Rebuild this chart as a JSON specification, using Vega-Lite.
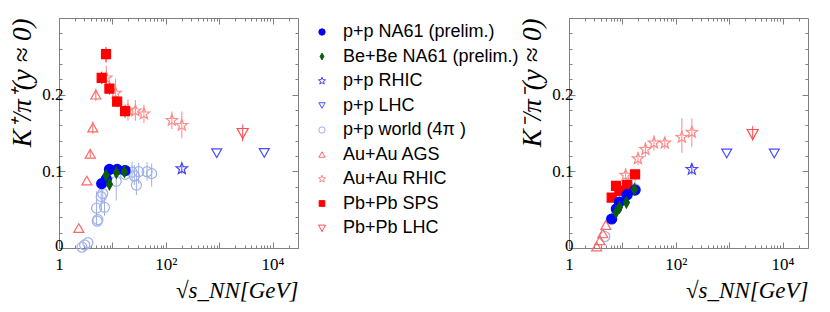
{
  "$schema": "https://vega.github.io/schema/vega-lite/v6.json",
  "padding": {"left": 8, "top": 17, "right": 5, "bottom": 5},
  "background": "white",
  "spacing": 271,
  "bounds": "flush",
  "config": {
    "view": {"stroke": "#808080", "strokeWidth": 1},
    "axis": {
      "labelFont": "Liberation Serif", "labelFontSize": 17, "labelColor": "black",
      "titleFont": "Liberation Serif", "titleFontStyle": "italic", "titleFontWeight": "normal",
      "titleFontSize": 23, "titleColor": "black", "domain": false, "grid": false,
      "tickColor": "#808080", "labelOverlap": false, "labelFlush": false
    },
    "legend": {
      "orient": "none", "legendX": 254, "legendY": 5, "padding": 0,
      "labelFont": "Liberation Sans", "labelFontSize": 18, "labelColor": "black",
      "symbolSize": 40, "symbolStrokeWidth": 1, "rowPadding": 6.5, "labelOffset": 12,
      "symbolOpacity": 1, "labelLimit": 300
    }
  },
  "datasets": {
    "kp": [
      {"series": "p+p world (4π )", "x": 2.69, "y": 0.001},
      {"series": "p+p world (4π )", "x": 3.02, "y": 0.004},
      {"series": "p+p world (4π )", "x": 3.48, "y": 0.007},
      {"series": "p+p world (4π )", "x": 5.2, "y": 0.035},
      {"series": "p+p world (4π )", "x": 5.34, "y": 0.037},
      {"series": "p+p world (4π )", "x": 5.05, "y": 0.052, "lo": 0.03, "hi": 0.074},
      {"series": "p+p world (4π )", "x": 6.18, "y": 0.067, "lo": 0.05, "hi": 0.088},
      {"series": "p+p world (4π )", "x": 6.6, "y": 0.071, "lo": 0.058, "hi": 0.085},
      {"series": "p+p world (4π )", "x": 7.12, "y": 0.053, "lo": 0.042, "hi": 0.066},
      {"series": "p+p world (4π )", "x": 11.8, "y": 0.087, "lo": 0.062, "hi": 0.109},
      {"series": "p+p world (4π )", "x": 17.3, "y": 0.096},
      {"series": "p+p world (4π )", "x": 23.4, "y": 0.099, "lo": 0.087, "hi": 0.112},
      {"series": "p+p world (4π )", "x": 25.8, "y": 0.094, "lo": 0.082, "hi": 0.108},
      {"series": "p+p world (4π )", "x": 28.2, "y": 0.082, "lo": 0.069, "hi": 0.096},
      {"series": "p+p world (4π )", "x": 31.1, "y": 0.0995, "lo": 0.084, "hi": 0.111},
      {"series": "p+p world (4π )", "x": 44.6, "y": 0.0995, "lo": 0.088, "hi": 0.112},
      {"series": "p+p world (4π )", "x": 54.4, "y": 0.097, "lo": 0.08, "hi": 0.11},
      {"series": "Au+Au AGS", "x": 2.35, "y": 0.026},
      {"series": "Au+Au AGS", "x": 3.32, "y": 0.088},
      {"series": "Au+Au AGS", "x": 3.85, "y": 0.123, "lo": 0.118, "hi": 0.128},
      {"series": "Au+Au AGS", "x": 4.3, "y": 0.157, "lo": 0.149, "hi": 0.165},
      {"series": "Au+Au AGS", "x": 4.9, "y": 0.2, "lo": 0.192, "hi": 0.208},
      {"series": "Au+Au RHIC", "x": 7.7, "y": 0.222, "lo": 0.206, "hi": 0.238},
      {"series": "Au+Au RHIC", "x": 11.5, "y": 0.202, "lo": 0.186, "hi": 0.221},
      {"series": "Au+Au RHIC", "x": 19.6, "y": 0.18, "lo": 0.166, "hi": 0.194},
      {"series": "Au+Au RHIC", "x": 27, "y": 0.179, "lo": 0.166, "hi": 0.193},
      {"series": "Au+Au RHIC", "x": 39, "y": 0.175, "lo": 0.163, "hi": 0.187},
      {"series": "Au+Au RHIC", "x": 130, "y": 0.1665, "lo": 0.155, "hi": 0.178},
      {"series": "Au+Au RHIC", "x": 200, "y": 0.16, "lo": 0.143, "hi": 0.178},
      {"series": "Pb+Pb LHC", "x": 2760, "y": 0.15, "lo": 0.139, "hi": 0.161},
      {"series": "p+p LHC", "x": 900, "y": 0.1237},
      {"series": "p+p LHC", "x": 7000, "y": 0.124},
      {"series": "p+p RHIC", "x": 200, "y": 0.1034, "lo": 0.097, "hi": 0.11},
      {"series": "Pb+Pb SPS", "x": 6.3, "y": 0.222, "lo": 0.214, "hi": 0.23},
      {"series": "Pb+Pb SPS", "x": 7.6, "y": 0.253, "lo": 0.242, "hi": 0.262},
      {"series": "Pb+Pb SPS", "x": 8.8, "y": 0.208, "lo": 0.2, "hi": 0.216},
      {"series": "Pb+Pb SPS", "x": 12.3, "y": 0.191, "lo": 0.184, "hi": 0.198},
      {"series": "Pb+Pb SPS", "x": 17.3, "y": 0.1785, "lo": 0.17, "hi": 0.187},
      {"series": "p+p NA61 (prelim.)", "x": 6.3, "y": 0.084},
      {"series": "p+p NA61 (prelim.)", "x": 7.7, "y": 0.09},
      {"series": "p+p NA61 (prelim.)", "x": 8.8, "y": 0.1025},
      {"series": "p+p NA61 (prelim.)", "x": 12.3, "y": 0.1025},
      {"series": "p+p NA61 (prelim.)", "x": 17.3, "y": 0.101},
      {"series": "Be+Be NA61 (prelim.)", "x": 7.6, "y": 0.095, "lo": 0.09, "hi": 0.1},
      {"series": "Be+Be NA61 (prelim.)", "x": 8.8, "y": 0.083, "lo": 0.079, "hi": 0.087},
      {"series": "Be+Be NA61 (prelim.)", "x": 11.9, "y": 0.098, "lo": 0.093, "hi": 0.103},
      {"series": "Be+Be NA61 (prelim.)", "x": 16.8, "y": 0.0995, "lo": 0.095, "hi": 0.104}
    ],
    "km": [
      {"series": "p+p world (4π )", "x": 4.7, "y": 0.015},
      {"series": "p+p world (4π )", "x": 12.3, "y": 0.083, "lo": 0.074, "hi": 0.092},
      {"series": "p+p world (4π )", "x": 17.3, "y": 0.077, "lo": 0.07, "hi": 0.1},
      {"series": "Au+Au AGS", "x": 3.3, "y": 0.002},
      {"series": "Au+Au AGS", "x": 3.8, "y": 0.01},
      {"series": "Au+Au AGS", "x": 4.3, "y": 0.019},
      {"series": "Au+Au AGS", "x": 4.9, "y": 0.03},
      {"series": "Au+Au RHIC", "x": 11.5, "y": 0.095, "lo": 0.087, "hi": 0.104},
      {"series": "Au+Au RHIC", "x": 19.6, "y": 0.1165, "lo": 0.108, "hi": 0.125},
      {"series": "Au+Au RHIC", "x": 27, "y": 0.1285, "lo": 0.119, "hi": 0.138},
      {"series": "Au+Au RHIC", "x": 39, "y": 0.137, "lo": 0.127, "hi": 0.147},
      {"series": "Au+Au RHIC", "x": 62.4, "y": 0.137, "lo": 0.129, "hi": 0.145},
      {"series": "Au+Au RHIC", "x": 130, "y": 0.1444, "lo": 0.124, "hi": 0.169},
      {"series": "Au+Au RHIC", "x": 200, "y": 0.151, "lo": 0.132, "hi": 0.169},
      {"series": "Pb+Pb LHC", "x": 2760, "y": 0.1487, "lo": 0.14, "hi": 0.159},
      {"series": "p+p LHC", "x": 900, "y": 0.1233},
      {"series": "p+p LHC", "x": 7000, "y": 0.1233},
      {"series": "p+p RHIC", "x": 200, "y": 0.1026, "lo": 0.096, "hi": 0.109},
      {"series": "Pb+Pb SPS", "x": 6.3, "y": 0.0658},
      {"series": "Pb+Pb SPS", "x": 7.6, "y": 0.081},
      {"series": "Pb+Pb SPS", "x": 8.8, "y": 0.0745},
      {"series": "Pb+Pb SPS", "x": 12.3, "y": 0.082},
      {"series": "Pb+Pb SPS", "x": 17.3, "y": 0.096},
      {"series": "p+p NA61 (prelim.)", "x": 6.3, "y": 0.0378},
      {"series": "p+p NA61 (prelim.)", "x": 7.7, "y": 0.051},
      {"series": "p+p NA61 (prelim.)", "x": 8.8, "y": 0.06},
      {"series": "p+p NA61 (prelim.)", "x": 12.3, "y": 0.0695},
      {"series": "p+p NA61 (prelim.)", "x": 17.3, "y": 0.0755},
      {"series": "Be+Be NA61 (prelim.)", "x": 7.6, "y": 0.0464},
      {"series": "Be+Be NA61 (prelim.)", "x": 8.8, "y": 0.053},
      {"series": "Be+Be NA61 (prelim.)", "x": 11.9, "y": 0.0595, "lo": 0.055, "hi": 0.064},
      {"series": "Be+Be NA61 (prelim.)", "x": 16.8, "y": 0.0767, "lo": 0.073, "hi": 0.08}
    ]
  },
  "hconcat": [
    {
      "width": 239, "height": 230,
      "data": {"name": "kp"},
      "layer": [
        {
          "transform": [{"filter": "datum.series === 'p+p NA61 (prelim.)'"}],
          "mark": {"type": "line", "color": "#00e1ff", "strokeWidth": 6, "opacity": 0.85},
          "encoding": {
            "x": {"field": "x", "type": "quantitative", "scale": {"type": "log", "domain": [1, 30000], "nice": false}, "axis": null},
            "y": {"field": "y", "type": "quantitative", "scale": {"domain": [0, 0.3], "nice": false, "zero": false}, "axis": null}
          }
        },
        {
          "mark": {"type": "rule", "strokeWidth": 1},
          "encoding": {
            "x": {"field": "x", "type": "quantitative", "scale": {"type": "log", "domain": [1, 30000], "nice": false},
              "axis": {"orient": "top", "labels": false, "title": null,
                "values": [1,2,3,4,5,6,7,8,9,10,20,30,40,50,60,70,80,90,100,200,300,400,500,600,700,800,900,1000,2000,3000,4000,5000,6000,7000,8000,9000,10000,20000],
                "tickSize": {"condition": {"test": "abs(log(datum.value)/LN10 - round(log(datum.value)/LN10)) < 0.001", "value": -6}, "value": -3}}},
            "y": {"field": "lo", "type": "quantitative", "scale": {"domain": [0, 0.3], "nice": false, "zero": false},
              "axis": {"orient": "right", "labels": false, "title": null,
                "values": [0,0.02,0.04,0.06,0.08,0.1,0.12,0.14,0.16,0.18,0.2,0.22,0.24,0.26,0.28],
                "tickSize": {"condition": {"test": "abs(datum.value*10 - round(datum.value*10)) < 0.001", "value": -6}, "value": -3}}},
            "y2": {"field": "hi"},
            "stroke": {"field": "series", "type": "nominal",
              "scale": {"domain": ["p+p NA61 (prelim.)", "Be+Be NA61 (prelim.)", "p+p RHIC", "p+p LHC", "p+p world (4π )", "Au+Au AGS", "Au+Au RHIC", "Pb+Pb SPS", "Pb+Pb LHC"],
                "range": ["#0000ff", "#0b5d0b", "#4646ee", "#4b4bff", "#9fb0e8", "#ff6666", "#ff8888", "#ff0000", "#ff4d4d"]}}
          }
        },
        {
          "mark": {"type": "point", "strokeWidth": 1.2, "opacity": 1, "size": 100},
          "encoding": {
            "x": {"field": "x", "type": "quantitative", "scale": {"type": "log", "domain": [1, 30000], "nice": false},
              "axis": {"orient": "bottom", "title": "√s_NN[GeV]", "titleAnchor": "end", "titlePadding": 4, "labelPadding": 14,
                "values": [1,2,3,4,5,6,7,8,9,10,20,30,40,50,60,70,80,90,100,200,300,400,500,600,700,800,900,1000,2000,3000,4000,5000,6000,7000,8000,9000,10000,20000],
                "labelExpr": "datum.value == 1 ? '1' : datum.value == 100 ? '10²' : datum.value == 10000 ? '10⁴' : ''",
                "tickSize": {"condition": {"test": "abs(log(datum.value)/LN10 - round(log(datum.value)/LN10)) < 0.001", "value": -6}, "value": -3}}},
            "y": {"field": "y", "type": "quantitative", "scale": {"domain": [0, 0.3], "nice": false, "zero": false},
              "axis": {"orient": "left", "title": "K⁺/π⁺(y ≈ 0)", "titleFontSize": 27, "titleAnchor": "end", "titlePadding": 5, "labelPadding": 2,
                "values": [0,0.02,0.04,0.06,0.08,0.1,0.12,0.14,0.16,0.18,0.2,0.22,0.24,0.26,0.28],
                "labelOffset": {"condition": {"test": "datum.value == 0", "value": -3}, "value": 0},
                "labelExpr": "datum.value == 0 ? '0' : abs(datum.value - 0.1) < 0.0001 ? '0.1' : abs(datum.value - 0.2) < 0.0001 ? '0.2' : ''",
                "tickSize": {"condition": {"test": "abs(datum.value*10 - round(datum.value*10)) < 0.001", "value": -6}, "value": -3}}},
            "stroke": {"field": "series", "type": "nominal",
              "scale": {"domain": ["p+p NA61 (prelim.)", "Be+Be NA61 (prelim.)", "p+p RHIC", "p+p LHC", "p+p world (4π )", "Au+Au AGS", "Au+Au RHIC", "Pb+Pb SPS", "Pb+Pb LHC"],
                "range": ["#0000ff", "#0b5d0b", "#4646ee", "#4b4bff", "#9fb0e8", "#ff6666", "#ff8888", "#ff0000", "#ff4d4d"]},
              "legend": {"title": null, "symbolSize": 40}},
            "fill": {"field": "series", "type": "nominal",
              "scale": {"domain": ["p+p NA61 (prelim.)", "Be+Be NA61 (prelim.)", "p+p RHIC", "p+p LHC", "p+p world (4π )", "Au+Au AGS", "Au+Au RHIC", "Pb+Pb SPS", "Pb+Pb LHC"],
                "range": ["#0000ff", "#0b5d0b", "transparent", "transparent", "transparent", "transparent", "transparent", "#ff0000", "transparent"]},
              "legend": {"title": null, "symbolSize": 40}},
            "shape": {"field": "series", "type": "nominal",
              "scale": {"domain": ["p+p NA61 (prelim.)", "Be+Be NA61 (prelim.)", "p+p RHIC", "p+p LHC", "p+p world (4π )", "Au+Au AGS", "Au+Au RHIC", "Pb+Pb SPS", "Pb+Pb LHC"],
                "range": ["circle", "M0,-1.1L0.6,0L0,1.1L-0.6,0Z", "M0,-1.2L0.296,-0.408L1.141,-0.371L0.479,0.156L0.706,0.971L0,0.504L-0.706,0.971L-0.479,0.156L-1.141,-0.371L-0.296,-0.408Z", "triangle-down", "circle", "triangle-up", "M0,-1.2L0.296,-0.408L1.141,-0.371L0.479,0.156L0.706,0.971L0,0.504L-0.706,0.971L-0.479,0.156L-1.141,-0.371L-0.296,-0.408Z", "M-0.9,-0.9L0.9,-0.9L0.9,0.9L-0.9,0.9Z", "M-1.1,-0.9L1.1,-0.9L0,1.1Z"]},
              "legend": {"title": null, "symbolSize": 40}}
          }
        }
      ],
      "resolve": {"axis": {"x": "independent", "y": "independent"}}
    },
    {
      "width": 239, "height": 230,
      "data": {"name": "km"},
      "layer": [
        {
          "transform": [{"filter": "datum.series === 'p+p NA61 (prelim.)'"}],
          "mark": {"type": "line", "color": "#00e1ff", "strokeWidth": 6, "opacity": 0.85},
          "encoding": {
            "x": {"field": "x", "type": "quantitative", "scale": {"type": "log", "domain": [1, 30000], "nice": false}, "axis": null},
            "y": {"field": "y", "type": "quantitative", "scale": {"domain": [0, 0.3], "nice": false, "zero": false}, "axis": null}
          }
        },
        {
          "mark": {"type": "rule", "strokeWidth": 1},
          "encoding": {
            "x": {"field": "x", "type": "quantitative", "scale": {"type": "log", "domain": [1, 30000], "nice": false},
              "axis": {"orient": "top", "labels": false, "title": null,
                "values": [1,2,3,4,5,6,7,8,9,10,20,30,40,50,60,70,80,90,100,200,300,400,500,600,700,800,900,1000,2000,3000,4000,5000,6000,7000,8000,9000,10000,20000],
                "tickSize": {"condition": {"test": "abs(log(datum.value)/LN10 - round(log(datum.value)/LN10)) < 0.001", "value": -6}, "value": -3}}},
            "y": {"field": "lo", "type": "quantitative", "scale": {"domain": [0, 0.3], "nice": false, "zero": false},
              "axis": {"orient": "right", "labels": false, "title": null,
                "values": [0,0.02,0.04,0.06,0.08,0.1,0.12,0.14,0.16,0.18,0.2,0.22,0.24,0.26,0.28],
                "tickSize": {"condition": {"test": "abs(datum.value*10 - round(datum.value*10)) < 0.001", "value": -6}, "value": -3}}},
            "y2": {"field": "hi"},
            "stroke": {"field": "series", "type": "nominal",
              "scale": {"domain": ["p+p NA61 (prelim.)", "Be+Be NA61 (prelim.)", "p+p RHIC", "p+p LHC", "p+p world (4π )", "Au+Au AGS", "Au+Au RHIC", "Pb+Pb SPS", "Pb+Pb LHC"],
                "range": ["#0000ff", "#0b5d0b", "#4646ee", "#4b4bff", "#9fb0e8", "#ff6666", "#ff8888", "#ff0000", "#ff4d4d"]},
              "legend": null}
          }
        },
        {
          "mark": {"type": "point", "strokeWidth": 1.2, "opacity": 1, "size": 100},
          "encoding": {
            "x": {"field": "x", "type": "quantitative", "scale": {"type": "log", "domain": [1, 30000], "nice": false},
              "axis": {"orient": "bottom", "title": "√s_NN[GeV]", "titleAnchor": "end", "titlePadding": 4, "labelPadding": 14,
                "values": [1,2,3,4,5,6,7,8,9,10,20,30,40,50,60,70,80,90,100,200,300,400,500,600,700,800,900,1000,2000,3000,4000,5000,6000,7000,8000,9000,10000,20000],
                "labelExpr": "datum.value == 1 ? '1' : datum.value == 100 ? '10²' : datum.value == 10000 ? '10⁴' : ''",
                "tickSize": {"condition": {"test": "abs(log(datum.value)/LN10 - round(log(datum.value)/LN10)) < 0.001", "value": -6}, "value": -3}}},
            "y": {"field": "y", "type": "quantitative", "scale": {"domain": [0, 0.3], "nice": false, "zero": false},
              "axis": {"orient": "left", "title": "K⁻/π⁻(y ≈ 0)", "titleFontSize": 27, "titleAnchor": "end", "titlePadding": 5, "labelPadding": 2,
                "values": [0,0.02,0.04,0.06,0.08,0.1,0.12,0.14,0.16,0.18,0.2,0.22,0.24,0.26,0.28],
                "labelOffset": {"condition": {"test": "datum.value == 0", "value": -3}, "value": 0},
                "labelExpr": "datum.value == 0 ? '0' : abs(datum.value - 0.1) < 0.0001 ? '0.1' : abs(datum.value - 0.2) < 0.0001 ? '0.2' : ''",
                "tickSize": {"condition": {"test": "abs(datum.value*10 - round(datum.value*10)) < 0.001", "value": -6}, "value": -3}}},
            "stroke": {"field": "series", "type": "nominal",
              "scale": {"domain": ["p+p NA61 (prelim.)", "Be+Be NA61 (prelim.)", "p+p RHIC", "p+p LHC", "p+p world (4π )", "Au+Au AGS", "Au+Au RHIC", "Pb+Pb SPS", "Pb+Pb LHC"],
                "range": ["#0000ff", "#0b5d0b", "#4646ee", "#4b4bff", "#9fb0e8", "#ff6666", "#ff8888", "#ff0000", "#ff4d4d"]},
              "legend": null},
            "fill": {"field": "series", "type": "nominal",
              "scale": {"domain": ["p+p NA61 (prelim.)", "Be+Be NA61 (prelim.)", "p+p RHIC", "p+p LHC", "p+p world (4π )", "Au+Au AGS", "Au+Au RHIC", "Pb+Pb SPS", "Pb+Pb LHC"],
                "range": ["#0000ff", "#0b5d0b", "transparent", "transparent", "transparent", "transparent", "transparent", "#ff0000", "transparent"]},
              "legend": null},
            "shape": {"field": "series", "type": "nominal",
              "scale": {"domain": ["p+p NA61 (prelim.)", "Be+Be NA61 (prelim.)", "p+p RHIC", "p+p LHC", "p+p world (4π )", "Au+Au AGS", "Au+Au RHIC", "Pb+Pb SPS", "Pb+Pb LHC"],
                "range": ["circle", "M0,-1.1L0.6,0L0,1.1L-0.6,0Z", "M0,-1.2L0.296,-0.408L1.141,-0.371L0.479,0.156L0.706,0.971L0,0.504L-0.706,0.971L-0.479,0.156L-1.141,-0.371L-0.296,-0.408Z", "triangle-down", "circle", "triangle-up", "M0,-1.2L0.296,-0.408L1.141,-0.371L0.479,0.156L0.706,0.971L0,0.504L-0.706,0.971L-0.479,0.156L-1.141,-0.371L-0.296,-0.408Z", "M-0.9,-0.9L0.9,-0.9L0.9,0.9L-0.9,0.9Z", "M-1.1,-0.9L1.1,-0.9L0,1.1Z"]},
              "legend": null}
          }
        }
      ],
      "resolve": {"axis": {"x": "independent", "y": "independent"}}
    }
  ],
  "resolve": {"scale": {"x": "independent", "y": "independent", "stroke": "independent", "fill": "independent", "shape": "independent"}, "legend": {"stroke": "independent", "fill": "independent", "shape": "independent"}}
}
